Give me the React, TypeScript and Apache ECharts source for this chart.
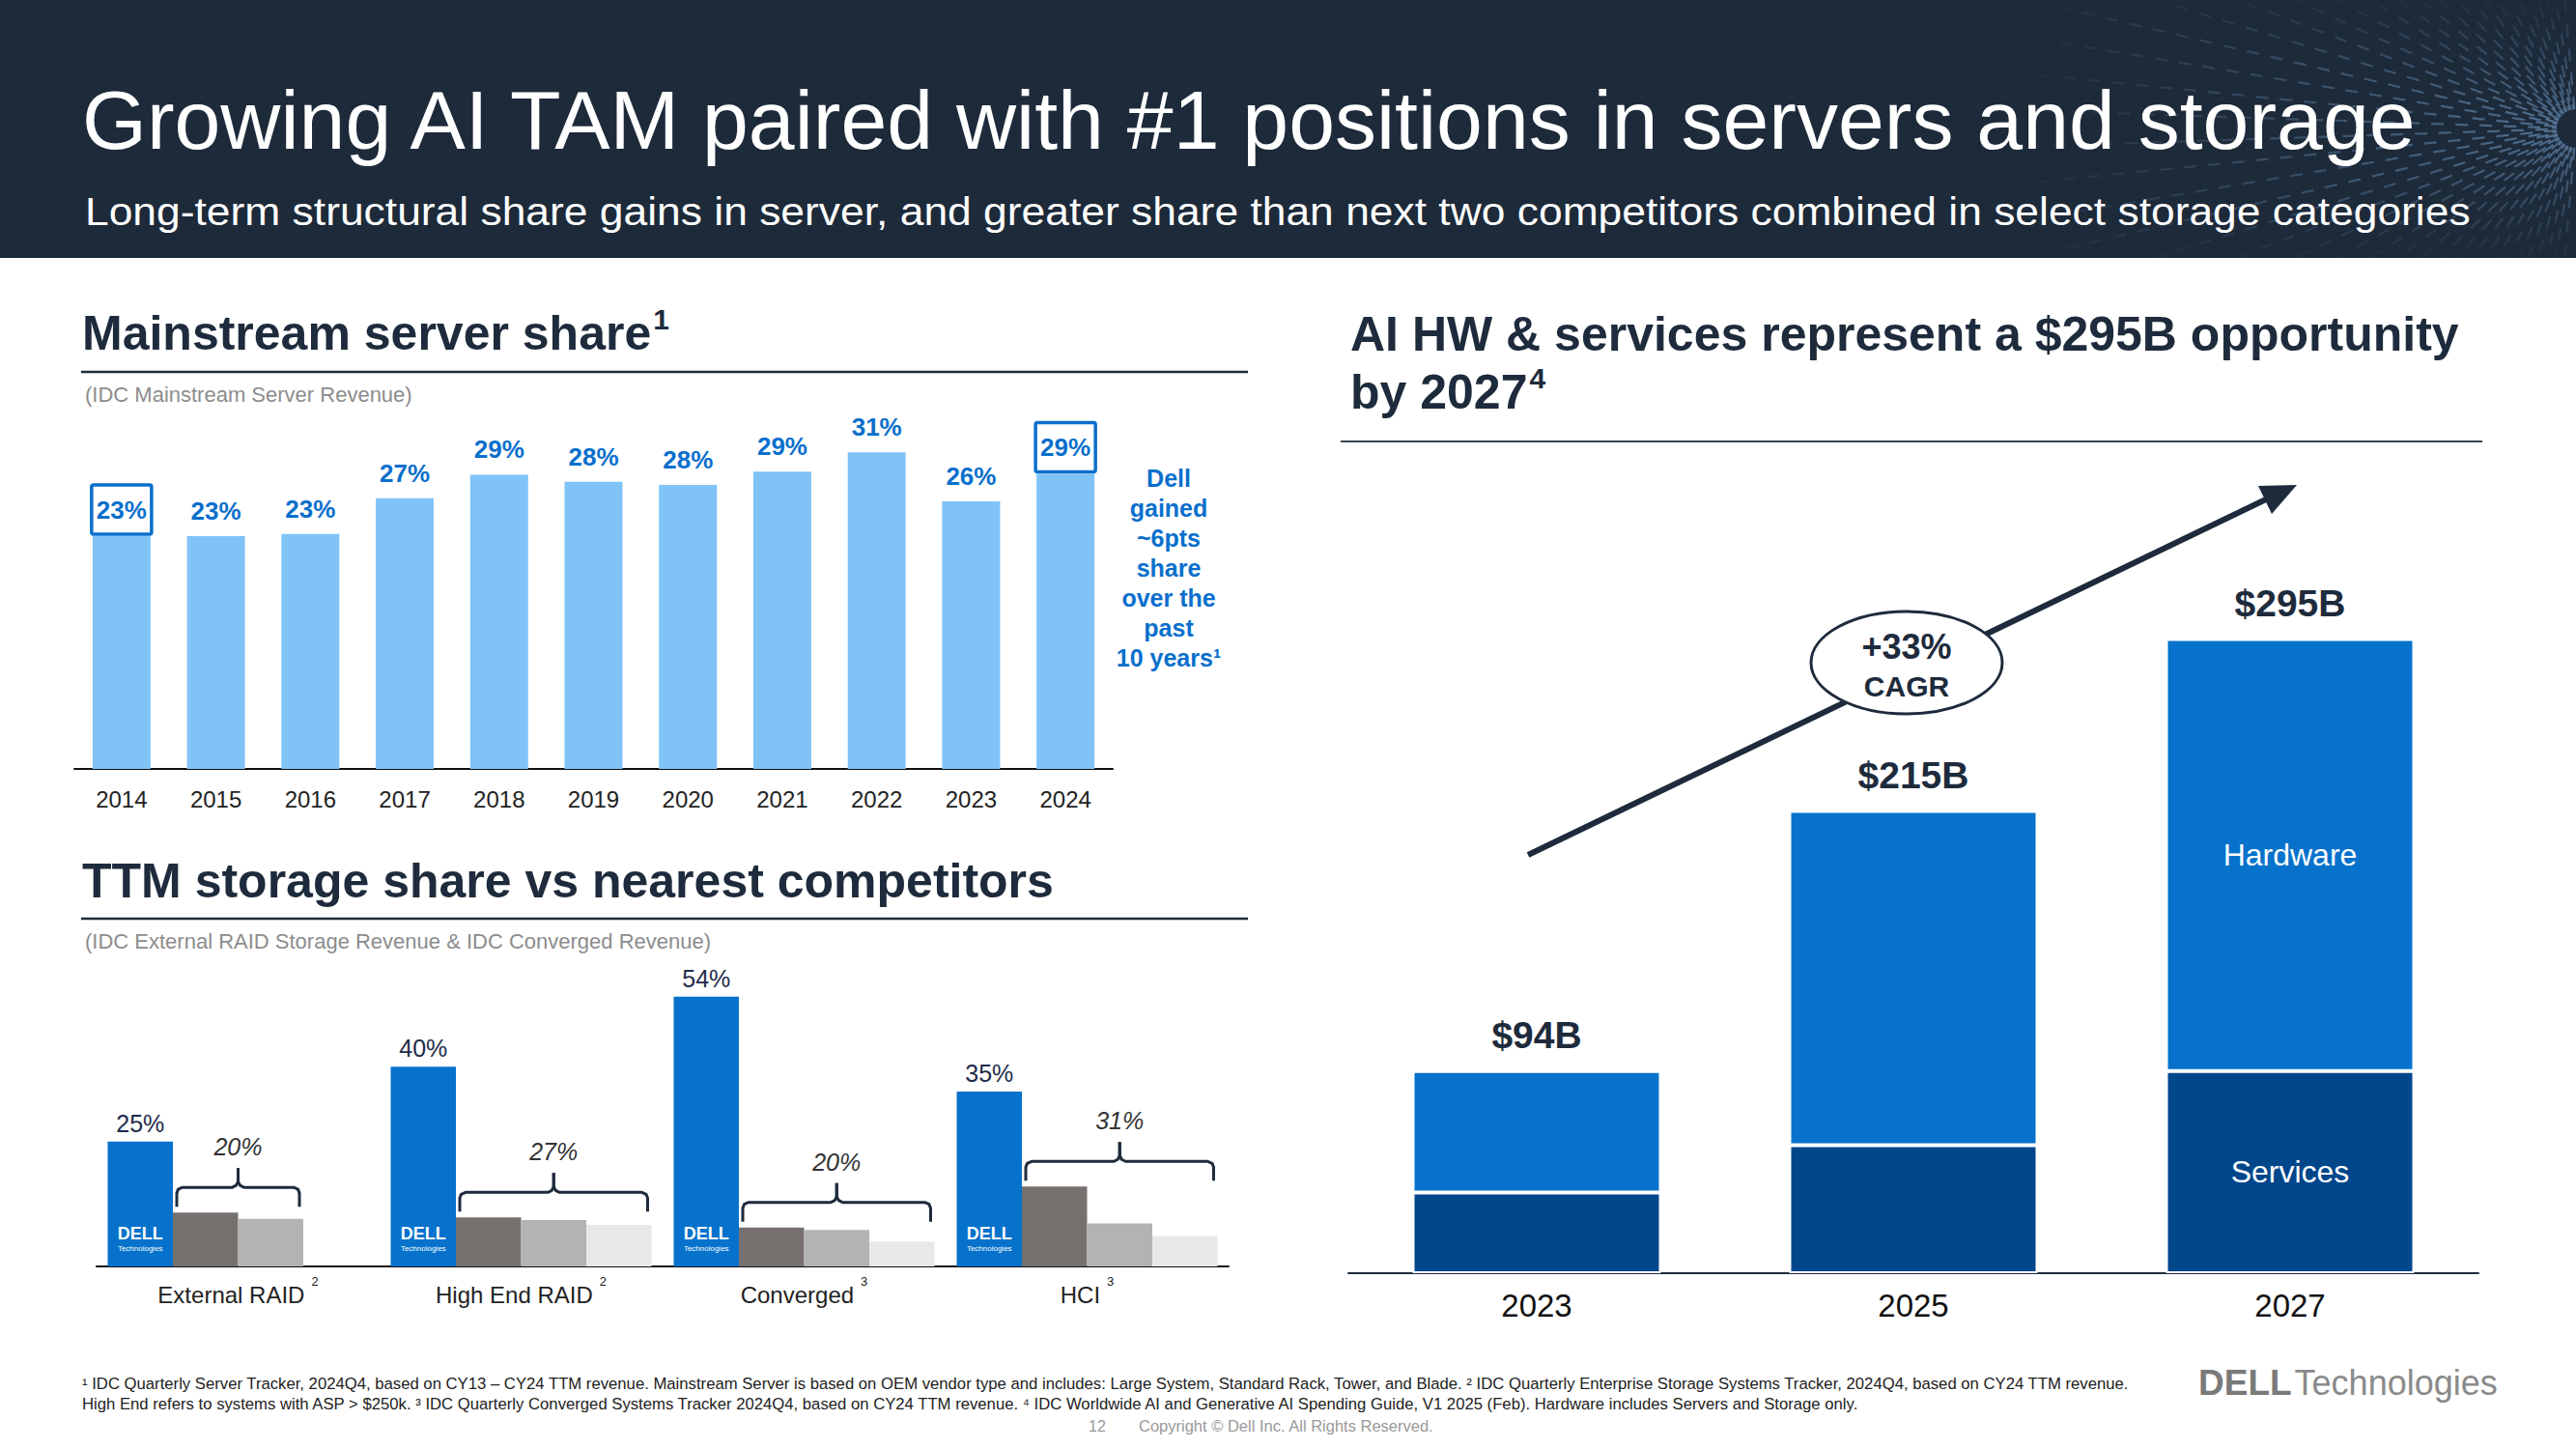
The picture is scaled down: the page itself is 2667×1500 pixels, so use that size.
import React, { useEffect, useRef } from "react";
import * as echarts from "echarts";

const FONT = "'Liberation Sans', Arial, Helvetica, sans-serif";
const NAVY = "#1e2b3c";
const DELL_BLUE = "#0672cb";

// ---- Mainstream server share ----
const serverYears = ["2014", "2015", "2016", "2017", "2018", "2019", "2020", "2021", "2022", "2023", "2024"];
const serverShare = [22.8, 22.8, 23.0, 26.5, 28.8, 28.1, 27.8, 29.1, 31.0, 26.2, 28.9];
const serverBoxedYears = ["2014", "2024"];

// ---- TTM storage share ----
const storageCategories = ["External RAID", "High End RAID", "Converged", "HCI"];
const storageNotes = ["2", "2", "3", "3"];
const dellShare = [25, 40, 54, 35];
const competitor1 = [10.8, 9.8, 7.8, 16.0];
const competitor2 = [9.5, 9.3, 7.3, 8.6];
const competitor3 = [null, 8.3, 5.0, 6.1];

// ---- AI TAM ----
const aiYears = ["2023", "2025", "2027"];
const aiServices = [37.5, 59.5, 94];
const aiHardware = [56.5, 155.5, 201];

const STORAGE_BAR_W = 67.5;

function headerRays(): any[] {
  const cx = 2667, cy = 133, H = 267;
  const out: any[] = [];
  const count = 46;
  for (let k = 0; k < count; k++) {
    const ang = ((95 + (170 * k) / (count - 1)) * Math.PI) / 180;
    const dx = Math.cos(ang), dy = -Math.sin(ang);
    let len = 560;
    if (dy < 0) len = Math.min(len, (cy - 0) / -dy);
    if (dy > 0) len = Math.min(len, (H - 2 - cy) / dy);
    const x2 = cx + dx * len, y2 = cy + dy * len;
    out.push({
      type: "line", z: 1, silent: true,
      shape: { x1: cx + dx * 20, y1: cy + dy * 20, x2, y2 },
      style: {
        stroke: new echarts.graphic.LinearGradient(cx, cy, x2, y2, [
          { offset: 0, color: "rgba(90,125,160,0.85)" },
          { offset: 1, color: "rgba(90,125,160,0.05)" },
        ], true),
        lineWidth: 2.2,
        lineDash: [13, 12],
        lineDashOffset: (k % 3) * 8,
      },
    });
  }
  return out;
}

export default function App() {
  const ref = useRef<HTMLDivElement>(null);

  useEffect(() => {
    const chart = echarts.init(ref.current!, null, { renderer: "svg" });

    const storageBracketData = storageCategories.map((_, i) => {
      const comps = [competitor1[i], competitor2[i], competitor3[i]].filter((v) => v != null) as number[];
      const total = Math.round(comps.reduce((a, b) => a + b, 0));
      return [i, Math.max(...comps), comps.length, total];
    });

    const aiTotals = aiYears.map((_, i) => [i, aiServices[i] + aiHardware[i]]);

    const headingRich = (size: number) => ({
      m: { fontSize: size, fontWeight: "bold", fill: NAVY, fontFamily: FONT, lineHeight: size * 1.2 },
      s: { fontSize: size * 0.6, fontWeight: "bold", fill: NAVY, fontFamily: FONT, lineHeight: size * 0.6, verticalAlign: "top", padding: [0, 0, 0, 2] },
    });

    const graphic: any[] = [
      { type: "rect", z: 0, shape: { x: 0, y: 0, width: 2667, height: 267 }, style: { fill: "#1d2a3a" } },
      ...headerRays(),
      {
        type: "text", z: 2, x: 85, y: 124,
        style: { text: "Growing AI TAM paired with #1 positions in servers and storage", fill: "#fff", fontSize: 86, fontFamily: FONT, textVerticalAlign: "middle" },
      },
      {
        type: "text", z: 2, x: 88, y: 219, scaleX: 1.083,
        style: { text: "Long-term structural share gains in server, and greater share than next two competitors combined in select storage categories", fill: "#fff", fontSize: 41, fontFamily: FONT, textVerticalAlign: "middle" },
      },
      // left top heading
      {
        type: "text", x: 85, y: 345,
        style: { text: "{m|Mainstream server share}{s|1}", fontFamily: FONT, textVerticalAlign: "middle", rich: headingRich(50) },
      },
      { type: "line", shape: { x1: 84, y1: 385, x2: 1292, y2: 385 }, style: { stroke: NAVY, lineWidth: 2.5 } },
      {
        type: "text", x: 88, y: 408,
        style: { text: "(IDC Mainstream Server Revenue)", fill: "#8c8c8c", fontSize: 22, fontFamily: FONT, textVerticalAlign: "middle" },
      },
      {
        type: "text", x: 1210, y: 588,
        style: {
          text: "Dell\ngained\n~6pts\nshare\nover the\npast\n10 years¹",
          fill: "#0a6fcc", fontSize: 25, fontWeight: "bold", fontFamily: FONT, lineHeight: 31,
          textAlign: "center", textVerticalAlign: "middle",
        },
      },
      // storage heading
      {
        type: "text", x: 85, y: 912,
        style: { text: "TTM storage share vs nearest competitors", fill: NAVY, fontSize: 50, fontWeight: "bold", fontFamily: FONT, textVerticalAlign: "middle" },
      },
      { type: "line", shape: { x1: 84, y1: 951, x2: 1292, y2: 951 }, style: { stroke: NAVY, lineWidth: 2.5 } },
      {
        type: "text", x: 88, y: 974,
        style: { text: "(IDC External RAID Storage Revenue & IDC Converged Revenue)", fill: "#8c8c8c", fontSize: 22, fontFamily: FONT, textVerticalAlign: "middle" },
      },
      // AI heading
      {
        type: "text", x: 1398, y: 346,
        style: { text: "AI HW & services represent a $295B opportunity", fill: NAVY, fontSize: 50, fontWeight: "bold", fontFamily: FONT, textVerticalAlign: "middle" },
      },
      {
        type: "text", x: 1398, y: 406,
        style: { text: "{m|by 2027}{s|4}", fontFamily: FONT, textVerticalAlign: "middle", rich: headingRich(50) },
      },
      { type: "line", shape: { x1: 1388, y1: 457, x2: 2570, y2: 457 }, style: { stroke: "#3a4452", lineWidth: 2 } },
      // CAGR arrow
      { type: "line", z: 10, shape: { x1: 1582, y1: 885, x2: 2350, y2: 515 }, style: { stroke: NAVY, lineWidth: 6 } },
      { type: "polygon", z: 10, shape: { points: [[2378, 502], [2352, 532], [2338, 503]] }, style: { fill: NAVY } },
      { type: "ellipse", z: 11, shape: { cx: 1974, cy: 686, rx: 99, ry: 53 }, style: { fill: "#fff", stroke: NAVY, lineWidth: 3 } },
      {
        type: "text", z: 12, x: 1974, y: 669,
        style: { text: "+33%", fill: NAVY, fontSize: 36, fontWeight: "bold", fontFamily: FONT, textAlign: "center", textVerticalAlign: "middle" },
      },
      {
        type: "text", z: 12, x: 1974, y: 710,
        style: { text: "CAGR", fill: NAVY, fontSize: 30, fontWeight: "bold", fontFamily: FONT, textAlign: "center", textVerticalAlign: "middle" },
      },
      // footnotes
      {
        type: "text", x: 85, y: 1432,
        style: {
          text: "¹ IDC Quarterly Server Tracker, 2024Q4, based on CY13 – CY24 TTM revenue. Mainstream Server is based on OEM vendor type and includes: Large System, Standard Rack, Tower, and Blade. ² IDC Quarterly Enterprise Storage Systems Tracker, 2024Q4, based on CY24 TTM revenue.",
          fill: "#222", fontSize: 16.7, fontFamily: FONT, textVerticalAlign: "middle",
        },
      },
      {
        type: "text", x: 85, y: 1453,
        style: {
          text: "High End refers to systems with ASP > $250k. ³ IDC Quarterly Converged Systems Tracker 2024Q4, based on CY24 TTM revenue. ⁴ IDC Worldwide AI and Generative AI Spending Guide, V1 2025 (Feb). Hardware includes Servers and Storage only.",
          fill: "#222", fontSize: 16.7, fontFamily: FONT, textVerticalAlign: "middle",
        },
      },
      {
        type: "text", x: 1127, y: 1476,
        style: { text: "12", fill: "#999", fontSize: 16, fontFamily: FONT, textVerticalAlign: "middle" },
      },
      {
        type: "text", x: 1179, y: 1476,
        style: { text: "Copyright © Dell Inc. All Rights Reserved.", fill: "#999", fontSize: 16.5, fontFamily: FONT, textVerticalAlign: "middle" },
      },
      {
        type: "text", x: 2276, y: 1431,
        style: {
          text: "{d|DELL}{t|Technologies}",
          fontFamily: FONT, textVerticalAlign: "middle",
          rich: {
            d: { fontSize: 37, fontWeight: "bold", fill: "#7a7a7a", fontFamily: FONT },
            t: { fontSize: 36, fill: "#8a8a8a", fontFamily: FONT, padding: [0, 0, 0, 3] },
          },
        },
      },
    ];

    const option: any = {
      animation: false,
      backgroundColor: "#fff",
      textStyle: { fontFamily: FONT },
      graphic,
      grid: [
        { left: 77, top: 373, width: 1075, height: 423 },
        { left: 100, top: 949, width: 1172, height: 362 },
        { left: 1396, top: 548, width: 1170, height: 770 },
      ],
      xAxis: [
        {
          gridIndex: 0, type: "category", data: serverYears,
          axisLine: { lineStyle: { color: "#111", width: 2 } }, axisTick: { show: false },
          axisLabel: { fontSize: 24, color: "#222", margin: 19, fontFamily: FONT },
        },
        {
          gridIndex: 1, type: "category",
          data: storageCategories.map((c, i) => `{n|${c}}{s|${storageNotes[i]}}`),
          axisLine: { lineStyle: { color: "#111", width: 2 } }, axisTick: { show: false },
          axisLabel: {
            margin: 9, fontFamily: FONT,
            rich: {
              n: { fontSize: 24, color: "#222", lineHeight: 40, fontFamily: FONT },
              s: { fontSize: 13, color: "#222", lineHeight: 14, verticalAlign: "top", padding: [0, 0, 0, 7], fontFamily: FONT },
            },
          },
        },
        {
          gridIndex: 2, type: "category", data: aiYears,
          axisLine: { lineStyle: { color: NAVY, width: 2 } }, axisTick: { show: false },
          axisLabel: { fontSize: 33, color: "#111", margin: 17, fontFamily: FONT },
        },
      ],
      yAxis: [
        { gridIndex: 0, type: "value", min: 0, max: 40, show: false },
        { gridIndex: 1, type: "value", min: 0, max: 70, show: false },
        { gridIndex: 2, type: "value", min: 0, max: 346, show: false },
      ],
      series: [
        {
          type: "bar", xAxisIndex: 0, yAxisIndex: 0, barWidth: 60,
          itemStyle: { color: "#80c3f7" },
          label: {
            show: true, position: "top", distance: 11, lineHeight: 30,
            formatter: (p: any) => `${Math.round(p.value)}%`,
            fontSize: 26, fontWeight: "bold", color: "#0a6fcc", fontFamily: FONT,
          },
          data: serverShare.map((v, i) =>
            serverBoxedYears.includes(serverYears[i])
              ? { value: v, label: { borderColor: "#0a6fcc", borderWidth: 3.5, borderRadius: 2, padding: [11, 5, 10, 5], distance: 2 } }
              : v
          ),
        },
        {
          name: "Dell", type: "bar", xAxisIndex: 1, yAxisIndex: 1, barWidth: STORAGE_BAR_W, barGap: "0%",
          itemStyle: { color: DELL_BLUE },
          label: { show: true, position: "top", distance: 6, lineHeight: 26, formatter: "{c}%", fontSize: 25, color: "#1e2b4a", fontFamily: FONT },
          data: dellShare,
        },
        {
          name: "Competitor 1", type: "bar", xAxisIndex: 1, yAxisIndex: 1, barWidth: STORAGE_BAR_W, barGap: "0%",
          itemStyle: { color: "#76716f" }, data: competitor1,
        },
        {
          name: "Competitor 2", type: "bar", xAxisIndex: 1, yAxisIndex: 1, barWidth: STORAGE_BAR_W, barGap: "0%",
          itemStyle: { color: "#b3b3b3" }, data: competitor2,
        },
        {
          name: "Competitor 3", type: "bar", xAxisIndex: 1, yAxisIndex: 1, barWidth: STORAGE_BAR_W, barGap: "0%",
          itemStyle: { color: "#e8e8e8" }, data: competitor3,
        },
        {
          type: "custom", xAxisIndex: 1, yAxisIndex: 1, z: 5,
          data: storageBracketData,
          renderItem: (params: any, api: any) => {
            const i = api.value(0);
            const top = api.value(1);
            const n = api.value(2);
            const total = api.value(3);
            const [cx, yTop] = api.coord([i, top]);
            const base = api.coord([i, 0])[1];
            const bw = STORAGE_BAR_W;
            const left = cx - bw + 4;
            const right = cx - bw + n * bw - 4;
            const mid = (left + right) / 2;
            const endY = yTop - 6;
            const hY = endY - 20;
            const peakY = hY - 20;
            const lineStyle = { stroke: NAVY, lineWidth: 3, fill: "none", lineJoin: "round" };
            const dellX = cx - 1.5 * bw;
            return {
              type: "group",
              children: [
                {
                  type: "polyline",
                  shape: { points: [[left, endY], [left, hY + 6], [left + 1.5, hY + 2], [left + 6, hY], [mid - 6, hY], [mid - 2, hY - 2], [mid, hY - 6], [mid, peakY]] },
                  style: lineStyle,
                },
                {
                  type: "polyline",
                  shape: { points: [[right, endY], [right, hY + 6], [right - 1.5, hY + 2], [right - 6, hY], [mid + 6, hY], [mid + 2, hY - 2], [mid, hY - 6], [mid, peakY]] },
                  style: lineStyle,
                },
                {
                  type: "text",
                  style: { x: mid, y: peakY - 22, text: `${total}%`, fill: "#333", fontSize: 25, fontStyle: "italic", fontFamily: FONT, textAlign: "center", textVerticalAlign: "middle" },
                },
                {
                  type: "text",
                  style: { x: dellX, y: base - 34, text: "DELL", fill: "#fff", fontSize: 18, fontWeight: "bold", fontFamily: FONT, textAlign: "center", textVerticalAlign: "middle" },
                },
                {
                  type: "text",
                  style: { x: dellX, y: base - 19, text: "Technologies", fill: "#fff", fontSize: 8, fontFamily: FONT, textAlign: "center", textVerticalAlign: "middle" },
                },
              ],
            };
          },
        },
        {
          name: "Services", type: "bar", stack: "ai", xAxisIndex: 2, yAxisIndex: 2, barWidth: 257,
          itemStyle: { color: "#00468b", borderColor: "#fff", borderWidth: 2 },
          label: {
            show: true, position: "inside", color: "#fff", fontSize: 32, fontFamily: FONT,
            formatter: (p: any) => (p.dataIndex === aiYears.length - 1 ? "Services" : ""),
          },
          data: aiServices,
        },
        {
          name: "Hardware", type: "bar", stack: "ai", xAxisIndex: 2, yAxisIndex: 2, barWidth: 257,
          itemStyle: { color: DELL_BLUE, borderColor: "#fff", borderWidth: 2 },
          label: {
            show: true, position: "inside", color: "#fff", fontSize: 32, fontFamily: FONT,
            formatter: (p: any) => (p.dataIndex === aiYears.length - 1 ? "Hardware" : ""),
          },
          data: aiHardware,
        },
        {
          type: "custom", xAxisIndex: 2, yAxisIndex: 2, z: 5,
          data: aiTotals,
          renderItem: (params: any, api: any) => {
            const [x, y] = api.coord([api.value(0), api.value(1)]);
            return {
              type: "text",
              style: { x, y: y - 37, text: `$${Math.round(api.value(1))}B`, fill: NAVY, fontSize: 39, fontWeight: "bold", fontFamily: FONT, textAlign: "center", textVerticalAlign: "middle" },
            };
          },
        },
      ],
    };

    chart.setOption(option);
    return () => chart.dispose();
  }, []);

  return <div ref={ref} style={{ position: "absolute", left: 0, top: 0, width: 2667, height: 1500 }} />;
}
